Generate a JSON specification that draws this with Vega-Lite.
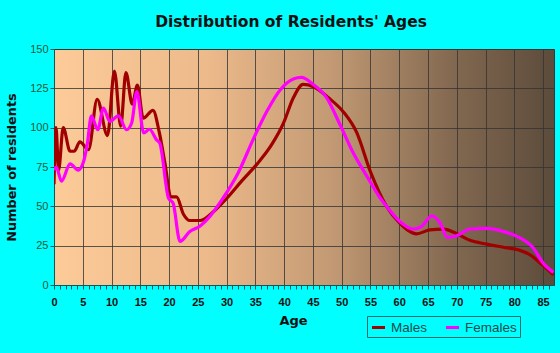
{
  "$schema": "https://vega.github.io/schema/vega-lite/v6.json",
  "width": 500,
  "height": 236,
  "autosize": {"type": "none"},
  "padding": {"left": 54, "top": 49, "right": 6, "bottom": 68},
  "background": "#00FFFF",
  "title": {"text": "Distribution of Residents' Ages", "fontSize": 15.5, "font": "DejaVu Sans", "fontWeight": "bold", "color": "#111111", "offset": 13, "dx": -13},
  "view": {
    "stroke": "#2a3a3a",
    "strokeWidth": 1,
    "fill": {"gradient": "linear", "x1": 0, "y1": 0, "x2": 1, "y2": 0, "stops": [
      {"offset": 0, "color": "#FCCB98"},
      {"offset": 0.3, "color": "#EDBA8B"},
      {"offset": 0.55, "color": "#C39A74"},
      {"offset": 0.8, "color": "#826850"},
      {"offset": 1, "color": "#5C4B3B"}
    ]}
  },
  "data": {"values": [
    {"age": 0, "sex": "Males", "n": 64},
    {"age": 0.35, "sex": "Males", "n": 100},
    {"age": 0.8, "sex": "Males", "n": 73},
    {"age": 1.6, "sex": "Males", "n": 100},
    {"age": 2.8, "sex": "Males", "n": 85},
    {"age": 3.5, "sex": "Males", "n": 85},
    {"age": 4.5, "sex": "Males", "n": 91},
    {"age": 6, "sex": "Males", "n": 86},
    {"age": 7.5, "sex": "Males", "n": 118},
    {"age": 9.3, "sex": "Males", "n": 95},
    {"age": 10.5, "sex": "Males", "n": 136},
    {"age": 11.6, "sex": "Males", "n": 101},
    {"age": 12.5, "sex": "Males", "n": 135},
    {"age": 13.6, "sex": "Males", "n": 115},
    {"age": 14.5, "sex": "Males", "n": 127},
    {"age": 15.5, "sex": "Males", "n": 106},
    {"age": 17.2, "sex": "Males", "n": 111},
    {"age": 18.3, "sex": "Males", "n": 97},
    {"age": 19.3, "sex": "Males", "n": 77},
    {"age": 20.3, "sex": "Males", "n": 56},
    {"age": 21.3, "sex": "Males", "n": 56},
    {"age": 22.5, "sex": "Males", "n": 45},
    {"age": 23.6, "sex": "Males", "n": 41},
    {"age": 25.4, "sex": "Males", "n": 41},
    {"age": 27.7, "sex": "Males", "n": 46.5},
    {"age": 30, "sex": "Males", "n": 55},
    {"age": 32.6, "sex": "Males", "n": 66},
    {"age": 35.2, "sex": "Males", "n": 76.5},
    {"age": 37.8, "sex": "Males", "n": 89},
    {"age": 39.9, "sex": "Males", "n": 103},
    {"age": 41.6, "sex": "Males", "n": 119},
    {"age": 43.3, "sex": "Males", "n": 127.5},
    {"age": 45.1, "sex": "Males", "n": 126},
    {"age": 47.7, "sex": "Males", "n": 119},
    {"age": 50.3, "sex": "Males", "n": 110},
    {"age": 52.6, "sex": "Males", "n": 97},
    {"age": 55, "sex": "Males", "n": 72},
    {"age": 57.8, "sex": "Males", "n": 50},
    {"age": 60.1, "sex": "Males", "n": 39.4},
    {"age": 63, "sex": "Males", "n": 32.5},
    {"age": 65.3, "sex": "Males", "n": 35},
    {"age": 67.7, "sex": "Males", "n": 35.5},
    {"age": 70, "sex": "Males", "n": 32.6},
    {"age": 72.3, "sex": "Males", "n": 28.4},
    {"age": 75.2, "sex": "Males", "n": 26},
    {"age": 78.1, "sex": "Males", "n": 24},
    {"age": 81, "sex": "Males", "n": 22},
    {"age": 82.7, "sex": "Males", "n": 19.3},
    {"age": 84.8, "sex": "Males", "n": 13},
    {"age": 86.8, "sex": "Males", "n": 6.5},
    {"age": 0, "sex": "Females", "n": 73},
    {"age": 0.4, "sex": "Females", "n": 75},
    {"age": 1.3, "sex": "Females", "n": 66},
    {"age": 2.8, "sex": "Females", "n": 77},
    {"age": 4.2, "sex": "Females", "n": 73},
    {"age": 5.1, "sex": "Females", "n": 78},
    {"age": 5.8, "sex": "Females", "n": 90},
    {"age": 6.5, "sex": "Females", "n": 107.5},
    {"age": 7.6, "sex": "Females", "n": 98.7},
    {"age": 8.6, "sex": "Females", "n": 112.5},
    {"age": 9.7, "sex": "Females", "n": 104},
    {"age": 11.2, "sex": "Females", "n": 107.5},
    {"age": 12.6, "sex": "Females", "n": 98.7},
    {"age": 13.5, "sex": "Females", "n": 103},
    {"age": 14.4, "sex": "Females", "n": 123},
    {"age": 15.6, "sex": "Females", "n": 96.6},
    {"age": 16.6, "sex": "Females", "n": 99},
    {"age": 17.8, "sex": "Females", "n": 92.4},
    {"age": 18.4, "sex": "Females", "n": 90},
    {"age": 19.9, "sex": "Females", "n": 55.3},
    {"age": 20.7, "sex": "Females", "n": 52},
    {"age": 21.9, "sex": "Females", "n": 27.7},
    {"age": 23.6, "sex": "Females", "n": 34},
    {"age": 25.4, "sex": "Females", "n": 37.5},
    {"age": 27.1, "sex": "Females", "n": 43.6},
    {"age": 29.4, "sex": "Females", "n": 55.3},
    {"age": 32, "sex": "Females", "n": 71.2},
    {"age": 34.6, "sex": "Females", "n": 92.4},
    {"age": 37, "sex": "Females", "n": 110.4},
    {"age": 39.3, "sex": "Females", "n": 124},
    {"age": 41.6, "sex": "Females", "n": 131},
    {"age": 43, "sex": "Females", "n": 132},
    {"age": 45.1, "sex": "Females", "n": 127.3},
    {"age": 47.4, "sex": "Females", "n": 119},
    {"age": 49.7, "sex": "Females", "n": 102},
    {"age": 52, "sex": "Females", "n": 84},
    {"age": 54.4, "sex": "Females", "n": 69},
    {"age": 56.7, "sex": "Females", "n": 55.3},
    {"age": 57.8, "sex": "Females", "n": 50},
    {"age": 60.1, "sex": "Females", "n": 40.4},
    {"age": 62.5, "sex": "Females", "n": 35.6},
    {"age": 63.9, "sex": "Females", "n": 37.3},
    {"age": 65.7, "sex": "Females", "n": 44},
    {"age": 67.1, "sex": "Females", "n": 39.4},
    {"age": 68.4, "sex": "Females", "n": 30.3},
    {"age": 70, "sex": "Females", "n": 31.3},
    {"age": 72.3, "sex": "Females", "n": 35.6},
    {"age": 75.2, "sex": "Females", "n": 36},
    {"age": 78.1, "sex": "Females", "n": 34},
    {"age": 81, "sex": "Females", "n": 29.9},
    {"age": 83.3, "sex": "Females", "n": 23.5},
    {"age": 85, "sex": "Females", "n": 14},
    {"age": 86.8, "sex": "Females", "n": 8}
  ]},
  "mark": {"type": "line", "interpolate": "monotone", "strokeWidth": 3.2, "clip": true},
  "encoding": {
    "x": {
      "field": "age", "type": "quantitative",
      "scale": {"domain": [0, 86.9], "nice": false, "zero": false},
      "axis": {
        "title": "Age",
        "titleFont": "DejaVu Sans", "titleFontSize": 13, "titleFontWeight": "bold", "titleColor": "#111111",
        "titlePadding": 7, "titleX": 239,
        "values": [0,1,2,3,4,5,6,7,8,9,10,11,12,13,14,15,16,17,18,19,20,21,22,23,24,25,26,27,28,29,30,31,32,33,34,35,36,37,38,39,40,41,42,43,44,45,46,47,48,49,50,51,52,53,54,55,56,57,58,59,60,61,62,63,64,65,66,67,68,69,70,71,72,73,74,75,76,77,78,79,80,81,82,83,84,85,86],
        "labelExpr": "datum.value % 5 === 0 ? datum.label : ''",
        "labelFont": "Liberation Sans", "labelFontSize": 11, "labelFontWeight": "bold", "labelColor": "#111111",
        "labelPadding": 7, "labelFlush": false, "labelOverlap": false,
        "tickSize": 4, "tickColor": "#0D5A5A", "domainColor": "#0D5A5A",
        "grid": true, "gridColor": "#333333", "gridWidth": 1,
        "gridOpacity": {"condition": {"test": "datum.value % 5 === 0 && datum.value > 0", "value": 0.8}, "value": 0}
      }
    },
    "y": {
      "field": "n", "type": "quantitative",
      "scale": {"domain": [0, 150], "nice": false},
      "axis": {
        "title": "Number of residents",
        "titleFont": "DejaVu Sans", "titleFontSize": 12.8, "titleFontWeight": "bold", "titleColor": "#111111",
        "titlePadding": 11,
        "values": [0, 25, 50, 75, 100, 125, 150],
        "labelFont": "Liberation Sans", "labelFontSize": 11, "labelColor": "#1E5A3A",
        "labelPadding": 2,
        "tickSize": 4, "tickColor": "#0D5A5A", "domainColor": "#0D5A5A",
        "grid": true, "gridColor": "#333333", "gridOpacity": 0.8, "gridWidth": 1
      }
    },
    "color": {
      "field": "sex", "type": "nominal",
      "scale": {"domain": ["Males", "Females"], "range": ["#A00000", "#FF00FF"]},
      "legend": {
        "title": null, "orient": "none", "direction": "horizontal",
        "legendX": 313, "legendY": 267,
        "symbolType": "stroke", "symbolStrokeWidth": 3, "symbolSize": 170,
        "labelFont": "Liberation Sans", "labelFontSize": 13.5, "labelColor": "#1A4A4A",
        "strokeColor": "#1A6A6A", "padding": 3, "columnPadding": 11, "labelOffset": 4,
        "fillColor": "#00FFFF"
      }
    }
  }
}
